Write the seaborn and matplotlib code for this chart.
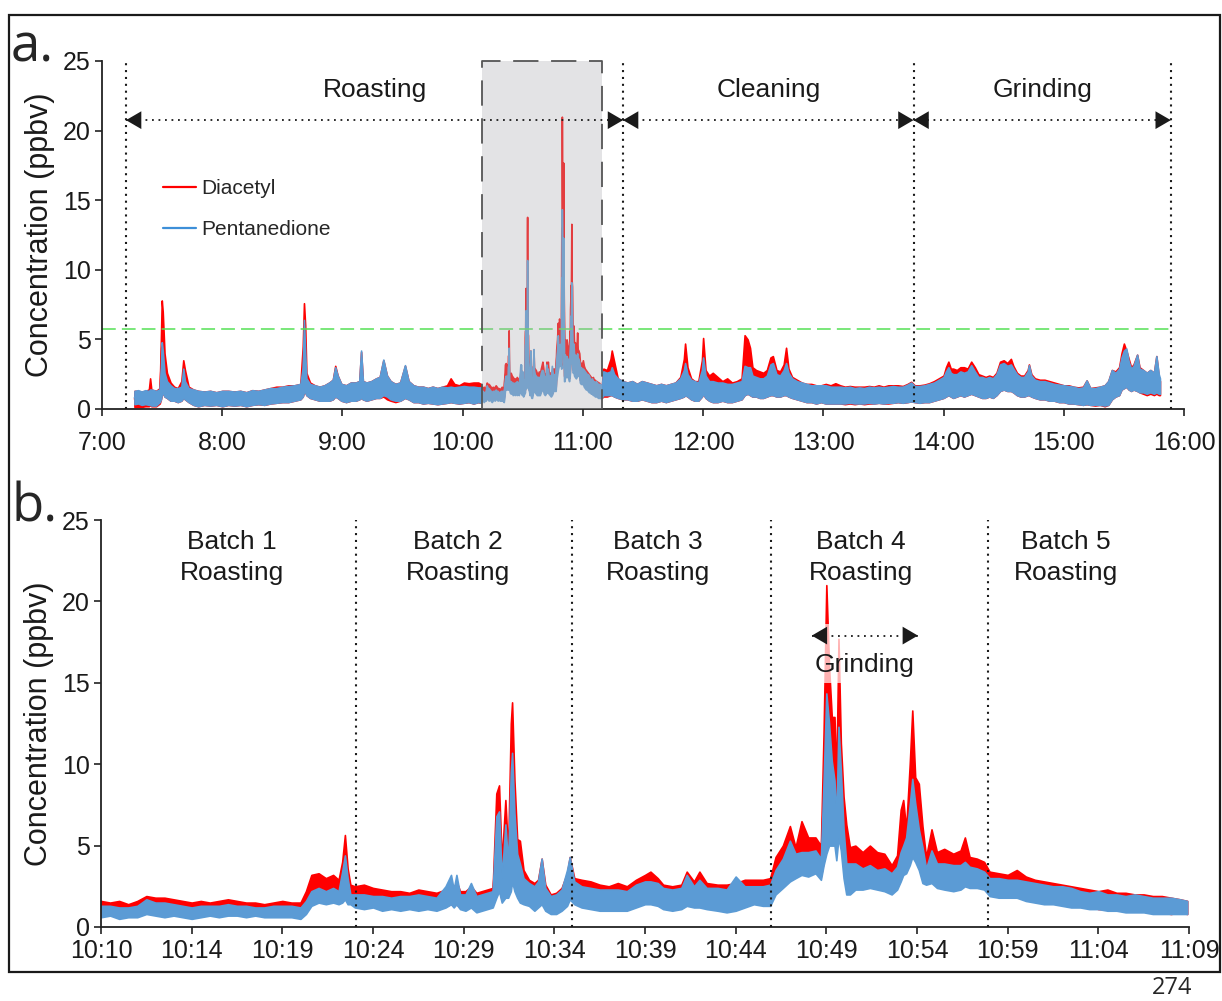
import pandas as pd
import seaborn as sns
import matplotlib.pyplot as plt
from matplotlib.patches import Rectangle
from matplotlib.lines import Line2D

# ---------------- data ----------------
# Each series is kept as a lower / upper envelope of the noisy signal
# panel a, before the zoomed window (time in decimal hours)
pre_t = [7.27, 7.30, 7.33, 7.36, 7.39, 7.40, 7.41, 7.45, 7.48, 7.49,
         7.497, 7.505, 7.52, 7.54, 7.57, 7.60, 7.63, 7.66, 7.676, 7.69,
         7.72, 7.76, 7.80, 7.85, 7.90, 7.95, 8.00, 8.05, 8.10, 8.15,
         8.20, 8.25, 8.30, 8.35, 8.40, 8.45, 8.50, 8.55, 8.60, 8.65,
         8.67, 8.68, 8.69, 8.70, 8.73, 8.77, 8.81, 8.85, 8.89, 8.92,
         8.94, 8.96, 8.99, 9.03, 9.07, 9.11, 9.14, 9.155, 9.17, 9.20,
         9.24, 9.28, 9.31, 9.34, 9.37, 9.40, 9.44, 9.48, 9.52, 9.55,
         9.59, 9.63, 9.67, 9.71, 9.75, 9.79, 9.83, 9.87, 9.90, 9.93,
         9.97, 10.01, 10.05, 10.09, 10.13, 10.15]
pre_dia_lo = [0.15, 0.15, 0.15, 0.2, 0.2, 0.3, 0.2, 0.2, 0.4, 0.7,
              1.0, 1.2, 0.9, 0.8, 0.6, 0.6, 0.5, 0.6, 0.8, 0.7,
              0.5, 0.3, 0.2, 0.3, 0.25, 0.3, 0.2, 0.3, 0.25, 0.3,
              0.2, 0.3, 0.35, 0.3, 0.4, 0.45, 0.5, 0.5, 0.6, 0.7,
              0.9, 1.2, 1.2, 1.0, 0.8, 0.7, 0.6, 0.6, 0.6, 0.7,
              0.9, 0.8, 0.6, 0.5, 0.6, 0.6, 0.7, 0.8, 0.7, 0.6,
              0.7, 0.8, 0.8, 0.9, 0.7, 0.6, 0.5, 0.6, 0.8, 0.7,
              0.5, 0.5, 0.4, 0.45, 0.4, 0.35, 0.4, 0.45, 0.5, 0.45,
              0.4, 0.45, 0.5, 0.4, 0.5, 0.45]
pre_dia_hi = [1.3, 1.3, 1.25, 1.3, 1.4, 2.2, 1.4, 1.3, 1.5, 5.0,
              7.8, 7.0, 4.0, 2.6, 1.9, 1.6, 1.5, 2.0, 3.5, 2.8,
              1.6, 1.4, 1.3, 1.25, 1.3, 1.2, 1.3, 1.3, 1.25, 1.3,
              1.2, 1.35, 1.3, 1.4, 1.5, 1.6, 1.6, 1.7, 1.7, 1.8,
              4.5, 7.6, 6.0, 2.6, 1.9, 1.7, 1.6, 1.7, 1.9, 2.1,
              3.1, 2.4, 1.8, 1.7, 1.9, 1.9, 2.0, 4.1, 2.0, 1.9,
              2.0, 2.2, 2.3, 3.5, 2.4, 2.0, 1.8, 1.9, 3.1, 2.0,
              1.7, 1.6, 1.6, 1.5, 1.6, 1.5, 1.6, 1.7, 2.2, 1.8,
              1.7, 1.9, 1.85, 1.9, 1.9, 1.8]
pre_pen_lo = [0.35, 0.4, 0.3, 0.35, 0.3, 0.3, 0.25, 0.25, 0.5, 0.7,
              1.0, 1.2, 0.9, 0.8, 0.6, 0.6, 0.5, 0.6, 0.8, 0.7,
              0.5, 0.3, 0.2, 0.3, 0.25, 0.3, 0.2, 0.3, 0.25, 0.3,
              0.2, 0.3, 0.35, 0.3, 0.4, 0.45, 0.5, 0.5, 0.6, 0.7,
              0.9, 1.2, 1.2, 1.0, 0.8, 0.7, 0.6, 0.6, 0.6, 0.7,
              0.9, 0.8, 0.6, 0.5, 0.6, 0.6, 0.7, 0.8, 0.7, 0.6,
              0.7, 0.8, 0.8, 1.0, 0.9, 0.7, 0.6, 0.6, 0.8, 0.7,
              0.5, 0.5, 0.4, 0.45, 0.4, 0.35, 0.4, 0.45, 0.5, 0.45,
              0.4, 0.45, 0.5, 0.4, 0.5, 0.45]
pre_pen_hi = [1.3, 1.35, 1.25, 1.35, 1.3, 1.4, 1.4, 1.3, 1.4, 3.0,
              4.8, 4.2, 2.6, 2.0, 1.7, 1.5, 1.5, 1.6, 2.9, 2.0,
              1.5, 1.4, 1.3, 1.25, 1.3, 1.2, 1.3, 1.3, 1.25, 1.3,
              1.2, 1.35, 1.3, 1.4, 1.5, 1.5, 1.6, 1.65, 1.7, 1.8,
              3.0, 6.4, 4.0, 2.2, 1.8, 1.7, 1.6, 1.7, 1.9, 2.1,
              3.0, 2.4, 1.8, 1.7, 1.9, 1.9, 2.0, 4.2, 2.0, 1.9,
              2.0, 2.2, 2.3, 3.55, 2.4, 2.0, 1.8, 1.9, 3.15, 2.0,
              1.7, 1.6, 1.6, 1.5, 1.6, 1.5, 1.6, 1.55, 1.6, 1.55,
              1.6, 1.65, 1.6, 1.6, 1.55, 1.55]

# panel a, after the zoomed window
post_t = [11.17, 11.20, 11.23, 11.24, 11.26, 11.29, 11.33, 11.37, 11.41, 11.45,
          11.49, 11.53, 11.57, 11.61, 11.65, 11.69, 11.73, 11.77, 11.81, 11.84,
          11.85, 11.87, 11.90, 11.93, 11.96, 11.99, 12.00, 12.02, 12.05, 12.08,
          12.12, 12.16, 12.20, 12.24, 12.28, 12.32, 12.345, 12.37, 12.39, 12.41,
          12.44, 12.47, 12.50, 12.53, 12.56, 12.58, 12.61, 12.64, 12.67, 12.69,
          12.71, 12.74, 12.78, 12.82, 12.86, 12.90, 12.94, 12.98, 13.02, 13.06,
          13.10, 13.14, 13.18, 13.22, 13.26, 13.30, 13.34, 13.38, 13.42, 13.46,
          13.50, 13.54, 13.58, 13.62, 13.66, 13.70, 13.73, 13.76, 13.80, 13.84,
          13.88, 13.92, 13.96, 14.00, 14.02, 14.04, 14.06, 14.08, 14.11, 14.14,
          14.17, 14.20, 14.23, 14.26, 14.29, 14.32, 14.35, 14.38, 14.41, 14.44,
          14.47, 14.50, 14.53, 14.56, 14.58, 14.61, 14.64, 14.67, 14.70, 14.71,
          14.73, 14.76, 14.80, 14.84, 14.88, 14.92, 14.96, 15.00, 15.04, 15.08,
          15.12, 15.16, 15.19, 15.22, 15.26, 15.30, 15.34, 15.37, 15.40, 15.43,
          15.46, 15.48, 15.50, 15.52, 15.54, 15.56, 15.58, 15.61, 15.63, 15.66,
          15.69, 15.72, 15.75, 15.77, 15.79, 15.80]
post_dia_lo = [0.9, 0.9, 1.0, 1.0, 0.9, 0.8, 0.7, 0.7, 0.6, 0.6,
               0.7, 0.6, 0.5, 0.5, 0.6, 0.5, 0.6, 0.7, 0.8, 0.9,
               1.0, 0.9, 0.7, 0.6, 0.6, 0.9, 1.1, 0.8, 0.6, 0.5,
               0.5, 0.6, 0.5, 0.5, 0.6, 0.7, 1.0, 1.1, 1.0, 0.9,
               0.9, 0.8, 0.8, 0.9, 1.0, 1.0, 0.9, 0.9, 1.0, 1.0,
               0.9, 0.8, 0.7, 0.6, 0.5, 0.5, 0.4, 0.5, 0.4, 0.4,
               0.4, 0.4, 0.35, 0.4, 0.35, 0.4, 0.35, 0.4, 0.4, 0.45,
               0.4, 0.4, 0.45, 0.5, 0.45, 0.5, 0.55, 0.5, 0.45, 0.5,
               0.5, 0.6, 0.7, 0.8, 0.9, 1.0, 0.9, 0.8, 0.9, 1.0,
               0.9, 1.0, 1.1, 1.0, 0.9, 0.8, 0.8, 0.9, 0.8, 1.0,
               1.3, 1.4, 1.3, 1.3, 1.2, 1.0, 0.9, 0.9, 1.0, 1.0,
               0.9, 0.8, 0.7, 0.7, 0.6, 0.6, 0.5, 0.5, 0.4, 0.4,
               0.35, 0.3, 0.35, 0.3, 0.25, 0.3, 0.2, 0.3, 0.7, 0.9,
               1.0, 1.4, 1.5, 1.6, 1.4, 1.3, 1.4, 1.3, 1.2, 1.1,
               1.0, 1.1, 1.0, 1.1, 1.0, 1.0]
post_dia_hi = [2.9, 2.8, 3.6, 4.2, 3.4, 2.2, 2.0, 1.9, 2.0, 1.8,
               2.0, 1.9, 1.8, 1.7, 1.8, 1.7, 1.8, 1.9, 2.3, 3.6,
               4.7, 3.0, 2.2, 2.0, 2.0, 3.5, 5.1, 2.8, 2.4, 2.6,
               2.3, 2.0, 2.2, 1.9, 2.0, 2.2, 5.3, 5.0, 4.4, 3.0,
               2.8, 2.7, 2.6, 2.8, 3.7, 3.8, 2.8, 2.7, 3.2, 4.4,
               2.9, 2.3, 2.1, 1.9, 1.8, 1.8, 1.7, 1.7, 1.8, 1.7,
               1.85, 1.7, 1.6, 1.65, 1.6, 1.6, 1.6, 1.65, 1.6, 1.7,
               1.6, 1.7, 1.7, 1.7, 1.65, 1.8, 1.95, 1.7, 1.7, 1.75,
               1.85, 2.0, 2.2, 2.4, 3.0, 3.4, 2.9, 2.9, 2.8, 3.0,
               3.0, 2.9, 3.4, 3.0, 2.5, 2.4, 2.3, 2.4, 2.3, 2.6,
               3.4, 3.5, 3.3, 3.6, 3.1, 2.6, 2.4, 2.4, 2.8, 3.2,
               2.5, 2.2, 2.1, 2.1, 2.0, 1.9, 1.8, 1.7, 1.7, 1.6,
               1.55, 1.6, 2.05, 1.5, 1.55, 1.6, 1.7, 2.0, 2.8, 2.7,
               3.0, 4.0, 4.7, 4.2, 3.6, 3.0, 3.2, 3.9, 3.0, 2.8,
               2.6, 2.8, 2.6, 3.8, 2.3, 2.0]
post_pen_lo = [1.0, 1.0, 1.0, 1.0, 0.9, 0.8, 0.7, 0.7, 0.6, 0.6,
               0.7, 0.6, 0.5, 0.5, 0.6, 0.5, 0.6, 0.7, 0.8, 0.9,
               1.0, 0.9, 0.7, 0.6, 0.6, 0.9, 1.1, 0.8, 0.6, 0.5,
               0.5, 0.6, 0.5, 0.5, 0.6, 0.7, 1.0, 1.1, 1.0, 0.9,
               0.9, 0.8, 0.8, 0.9, 1.0, 1.0, 0.9, 0.9, 1.0, 1.0,
               0.9, 0.8, 0.7, 0.6, 0.5, 0.5, 0.4, 0.5, 0.4, 0.4,
               0.4, 0.4, 0.4, 0.45, 0.4, 0.4, 0.4, 0.45, 0.4, 0.45,
               0.4, 0.45, 0.45, 0.5, 0.45, 0.5, 0.55, 0.5, 0.45, 0.5,
               0.5, 0.6, 0.7, 0.8, 0.9, 1.0, 0.9, 0.8, 0.9, 1.0,
               0.9, 1.0, 1.1, 1.0, 0.9, 0.8, 0.8, 0.9, 0.8, 1.0,
               1.3, 1.4, 1.3, 1.3, 1.2, 1.0, 0.9, 0.9, 1.0, 1.0,
               0.9, 0.8, 0.7, 0.7, 0.6, 0.6, 0.5, 0.5, 0.4, 0.4,
               0.35, 0.3, 0.35, 0.3, 0.3, 0.3, 0.25, 0.3, 0.7, 0.9,
               1.0, 1.4, 1.5, 1.6, 1.4, 1.3, 1.4, 1.3, 1.2, 1.2,
               1.1, 1.2, 1.1, 1.2, 1.1, 1.1]
post_pen_hi = [2.7, 2.6, 2.7, 3.0, 2.5, 2.2, 2.0, 1.9, 2.0, 1.8,
               2.0, 1.9, 1.8, 1.7, 1.8, 1.7, 1.8, 1.9, 2.2, 2.8,
               3.3, 2.5, 2.1, 2.0, 1.9, 2.8, 3.7, 2.4, 2.0, 2.0,
               1.9, 1.9, 1.8, 1.8, 1.9, 2.0, 3.1, 3.0, 3.0, 2.4,
               2.3, 2.2, 2.2, 2.4, 3.2, 3.3, 2.5, 2.4, 2.8, 3.3,
               2.6, 2.2, 2.0, 1.9, 1.8, 1.7, 1.7, 1.7, 1.7, 1.6,
               1.6, 1.6, 1.55, 1.6, 1.5, 1.55, 1.5, 1.6, 1.55, 1.6,
               1.55, 1.6, 1.65, 1.6, 1.6, 1.75, 1.9, 1.65, 1.65, 1.7,
               1.8, 1.9, 2.1, 2.3, 2.7, 3.0, 2.6, 2.5, 2.5, 2.7,
               2.6, 2.7, 3.15, 2.7, 2.3, 2.3, 2.2, 2.3, 2.2, 2.5,
               3.2, 3.3, 3.1, 3.2, 2.9, 2.5, 2.3, 2.3, 2.7, 3.15,
               2.4, 2.1, 2.0, 2.0, 1.9, 1.8, 1.75, 1.7, 1.65, 1.6,
               1.5, 1.55, 2.05, 1.5, 1.5, 1.6, 1.7, 2.0, 2.8, 2.6,
               2.9, 3.7, 4.2, 4.35, 3.4, 2.9, 3.1, 3.9, 2.9, 2.8,
               2.6, 2.8, 2.6, 3.8, 2.5, 2.2]

# panel b, the zoomed window (minutes from 10:09:30)
b_min = [0.0, 0.5, 1.0, 1.5, 2.0, 2.5, 3.0, 3.5, 4.0, 4.5,
         5.0, 5.5, 6.0, 6.5, 7.0, 7.5, 8.0, 8.5, 9.0, 9.5,
         10.0, 10.5, 11.0, 11.3, 11.6, 12.0, 12.4, 12.8, 13.1, 13.3,
         13.45, 13.6, 13.75, 14.0, 14.5, 15.0, 15.5, 16.0, 16.5, 17.0,
         17.5, 18.0, 18.5, 19.0, 19.3, 19.45, 19.6, 19.8, 20.1, 20.4,
         20.7, 21.0, 21.3, 21.6, 21.8, 21.95, 22.1, 22.3, 22.45, 22.6,
         22.67, 22.8, 22.95, 23.1, 23.3, 23.6, 23.9, 24.1, 24.3, 24.5,
         24.8, 25.1, 25.4, 25.7, 25.85, 26.1, 26.5, 27.0, 27.5, 28.0,
         28.5, 29.0, 29.5, 30.0, 30.3, 30.7, 31.0, 31.5, 32.0, 32.3,
         32.7, 33.0, 33.4, 34.0, 34.5, 35.0, 35.5, 36.0, 36.5, 36.9,
         37.2, 37.6, 37.99, 38.3, 38.63, 39.0, 39.4, 39.7, 39.85, 40.0,
         40.15, 40.3, 40.45, 40.55, 40.67, 40.8, 40.95, 41.1, 41.3, 41.6,
         42.0, 42.4, 42.8, 43.2, 43.6, 43.9, 44.1, 44.24, 44.4, 44.6,
         44.74, 44.9, 45.1, 45.3, 45.5, 45.8, 46.1, 46.5, 47.0, 47.4,
         47.64, 47.9, 48.3, 48.7, 49.0, 49.5, 50.0, 50.5, 51.0, 51.5,
         52.0, 52.5, 53.0, 53.5, 54.0, 54.5, 55.0, 55.5, 56.0, 56.5,
         57.0, 57.5, 58.0, 58.5, 59.0, 59.5, 59.9]
b_dia_lo = [0.8, 0.9, 0.7, 0.8, 0.9, 1.1, 1.0, 0.9, 0.9, 0.8,
            0.8, 0.9, 0.9, 0.9, 1.0, 0.9, 0.9, 0.9, 0.8, 0.9,
            0.9, 0.9, 0.8, 1.1, 1.6, 1.8, 1.7, 1.8, 1.6, 1.8,
            2.0, 1.8, 1.6, 1.6, 1.5, 1.5, 1.4, 1.3, 1.3, 1.4,
            1.4, 1.3, 1.2, 1.3, 1.4, 1.3, 1.4, 1.2, 1.2, 1.3,
            1.2, 1.2, 1.3, 1.4, 2.0, 2.5, 1.6, 2.0, 2.0, 2.5,
            3.0, 2.5, 2.0, 1.8, 1.6, 1.4, 1.2, 1.4, 1.5, 1.2,
            0.9, 1.0, 1.2, 1.5, 1.8, 1.6, 1.4, 1.3, 1.2, 1.1,
            1.1, 1.2, 1.3, 1.5, 1.5, 1.5, 1.3, 1.1, 1.2, 1.4,
            1.3, 1.3, 1.2, 1.1, 1.0, 1.1, 1.3, 1.5, 1.5, 1.5,
            2.3, 2.8, 3.2, 3.4, 3.5, 3.4, 3.4, 3.1, 4.0, 5.0,
            5.5, 5.6, 5.5, 5.0, 6.0, 5.5, 3.5, 2.4, 2.3, 2.5,
            2.5, 2.6, 2.5, 2.4, 2.2, 2.5, 3.0, 3.4, 3.5, 4.0,
            4.5, 4.2, 3.8, 3.0, 2.8, 2.9, 2.6, 2.5, 2.4, 2.5,
            2.7, 2.6, 2.6, 2.5, 2.1, 2.0, 2.0, 1.9, 1.8, 1.7,
            1.6, 1.5, 1.5, 1.4, 1.3, 1.3, 1.1, 1.1, 1.1, 1.0,
            1.0, 1.0, 0.9, 0.9, 0.8, 0.9, 0.8]
b_dia_hi = [1.6, 1.5, 1.6, 1.4, 1.6, 1.9, 1.8, 1.8, 1.7, 1.6,
            1.5, 1.6, 1.5, 1.6, 1.7, 1.6, 1.5, 1.5, 1.4, 1.5,
            1.6, 1.5, 1.5, 2.2, 3.2, 3.3, 3.0, 3.2, 2.9, 4.0,
            5.65, 3.6, 2.6, 2.5, 2.6, 2.4, 2.3, 2.2, 2.2, 2.1,
            2.3, 2.2, 2.1, 2.3, 2.7, 2.4, 2.8, 2.2, 2.2, 2.5,
            2.1, 2.2, 2.3, 2.4, 8.2, 8.7, 4.0, 7.8, 4.5, 12.5,
            13.8, 9.0, 5.4, 5.3, 3.5, 2.9, 2.7, 2.9, 4.2, 2.6,
            2.0, 2.1, 2.4, 3.3, 4.3, 3.0, 2.9, 2.8, 2.6, 2.5,
            2.7, 2.5, 2.9, 3.2, 3.4, 3.0, 2.6, 2.5, 2.6, 3.4,
            2.8, 3.4, 2.7, 2.6, 2.6, 2.7, 2.9, 2.9, 2.9, 3.0,
            4.3, 5.0, 6.2, 4.9, 6.5, 5.5, 5.5, 5.0, 12.0, 21.0,
            16.0, 12.9, 12.9, 9.0, 17.7, 11.3, 8.0, 6.3, 4.9, 5.0,
            4.6, 5.0, 4.6, 4.5, 3.8, 4.4, 7.2, 7.8, 6.0, 10.0,
            13.3, 9.2, 8.8, 6.2, 4.3, 6.0, 4.6, 4.8, 4.5, 4.7,
            5.5, 4.3, 4.2, 4.0, 3.4, 3.3, 3.2, 3.5, 3.1, 2.9,
            2.8, 2.7, 2.6, 2.5, 2.4, 2.3, 2.2, 2.3, 2.1, 2.1,
            2.0, 2.0, 1.9, 1.9, 1.8, 1.7, 1.6]
b_pen_lo = [0.6, 0.7, 0.5, 0.6, 0.6, 0.8, 0.7, 0.6, 0.7, 0.6,
            0.5, 0.6, 0.7, 0.6, 0.7, 0.7, 0.6, 0.7, 0.6, 0.6,
            0.6, 0.6, 0.5, 0.8, 1.3, 1.5, 1.4, 1.5, 1.4, 1.5,
            1.7, 1.4, 1.4, 1.2, 1.1, 1.2, 1.0, 1.1, 1.0, 1.1,
            1.0, 1.1, 1.0, 1.2, 1.4, 1.2, 1.4, 1.1, 1.0, 1.2,
            0.9, 1.0, 1.1, 1.2, 1.8, 2.2, 1.5, 1.8, 1.8, 2.2,
            2.8, 2.2, 1.8, 1.5, 1.4, 1.3, 1.0, 1.2, 1.4, 1.0,
            0.8, 0.8, 1.0, 1.3, 1.7, 1.4, 1.2, 1.1, 1.0, 1.0,
            1.0, 1.0, 1.2, 1.4, 1.4, 1.3, 1.1, 1.0, 1.1, 1.3,
            1.2, 1.2, 1.1, 1.0, 0.9, 1.0, 1.2, 1.4, 1.3, 1.3,
            2.0, 2.4, 2.8, 3.0, 3.2, 3.1, 3.3, 2.9, 3.8, 4.5,
            5.0, 5.0, 5.0, 4.1, 5.5, 4.7, 3.0, 2.0, 2.0, 2.3,
            2.3, 2.4, 2.3, 2.2, 2.0, 2.3, 2.8, 3.2, 3.3, 3.8,
            4.3, 4.0, 3.5, 2.7, 2.6, 2.7, 2.4, 2.3, 2.2, 2.3,
            2.5, 2.4, 2.4, 2.3, 1.9, 1.8, 1.8, 1.8, 1.6, 1.5,
            1.4, 1.4, 1.3, 1.2, 1.2, 1.1, 1.1, 1.0, 1.0, 0.9,
            0.9, 0.9, 0.8, 0.8, 0.8, 0.8, 0.8]
b_pen_hi = [1.3, 1.3, 1.2, 1.2, 1.3, 1.7, 1.5, 1.5, 1.4, 1.3,
            1.2, 1.3, 1.3, 1.3, 1.4, 1.3, 1.3, 1.2, 1.2, 1.3,
            1.3, 1.3, 1.2, 1.6, 2.2, 2.4, 2.2, 2.4, 2.2, 3.4,
            4.4, 3.0, 2.0, 2.0, 2.0, 1.9, 1.9, 1.8, 1.9, 1.9,
            2.0, 1.9, 1.8, 2.5, 3.2, 2.3, 3.2, 2.0, 2.0, 2.7,
            1.9, 2.0, 2.1, 2.2, 6.8, 7.1, 3.0, 6.3, 3.9, 9.5,
            10.7, 7.0, 4.5, 3.9, 3.0, 2.7, 2.5, 2.8, 4.2, 2.4,
            1.9, 2.0, 2.3, 3.5, 4.3, 2.8, 2.5, 2.4, 2.3, 2.3,
            2.3, 2.2, 2.6, 2.8, 2.8, 2.7, 2.4, 2.3, 2.4, 3.2,
            2.5, 2.9, 2.4, 2.4, 2.3, 3.1, 2.5, 2.5, 2.5, 2.6,
            3.5, 4.2, 5.3, 4.5, 4.6, 4.6, 4.7, 4.2, 9.0, 14.35,
            12.5, 10.2, 9.0, 6.5, 12.3, 9.6, 6.0, 3.9, 3.9, 3.9,
            3.6, 3.8, 3.5, 3.6, 3.3, 3.7, 4.6, 5.0, 5.5, 7.5,
            9.1, 7.6, 6.0, 4.9, 3.6, 4.7, 3.9, 3.9, 3.8, 3.8,
            4.0, 3.7, 3.6, 3.4, 3.0, 3.0, 2.9, 2.9, 2.8, 2.7,
            2.6, 2.5, 2.5, 2.4, 2.2, 2.1, 2.2, 2.0, 2.0, 1.9,
            2.0, 1.9, 1.8, 1.8, 1.8, 1.7, 1.6]

series_names = ['Diacetyl', 'Pentanedione']
a_ticklabels = ['7:00', '8:00', '9:00', '10:00', '11:00', '12:00',
                '13:00', '14:00', '15:00', '16:00']
b_ticklabels = ['10:10', '10:14', '10:19', '10:24', '10:29', '10:34', '10:39',
                '10:44', '10:49', '10:54', '10:59', '11:04', '11:09']
a_phases = ['Roasting', 'Cleaning', 'Grinding']
a_phase_edges = [7.2, 11.334, 13.75, 15.89]
b_batches = ['Batch 1\nRoasting', 'Batch 2\nRoasting', 'Batch 3\nRoasting',
             'Batch 4\nRoasting', 'Batch 5\nRoasting']
b_batch_edges = [14.05, 25.96, 36.94, 48.9]
limit_ppbv = 5.76
win_start = 10 + 9.5 / 60   # start of the zoomed hour (decimal hours)


def to_long(t, dlo, dhi, plo, phi):
    rows = []
    for i in range(len(t)):
        rows.append((t[i], dlo[i], 'Diacetyl'))
        rows.append((t[i], dhi[i], 'Diacetyl'))
        rows.append((t[i], plo[i], 'Pentanedione'))
        rows.append((t[i], phi[i], 'Pentanedione'))
    return pd.DataFrame(rows, columns=['time', 'conc', 'series'])


df_b = to_long(b_min, b_dia_lo, b_dia_hi, b_pen_lo, b_pen_hi)
df_win = df_b.copy()
df_win['time'] = win_start + df_win['time'] / 60
df_a = pd.concat([to_long(pre_t, pre_dia_lo, pre_dia_hi, pre_pen_lo, pre_pen_hi),
                  df_win,
                  to_long(post_t, post_dia_lo, post_dia_hi, post_pen_lo, post_pen_hi)],
                 ignore_index=True)

# ---------------- plotting ----------------
sns.set_theme(style='white')
plt.rcParams['font.family'] = ['Liberation Sans', 'DejaVu Sans']

red = '#ff0000'
blue = '#5b9bd5'
pal = {'Diacetyl': red, 'Pentanedione': blue}

W, H = 1222, 1001
fig = plt.figure(figsize=(W / 100, H / 100), dpi=100)
ax_a = fig.add_axes([102 / W, 1 - 409 / H, 1082 / W, 348 / H])
ax_b = fig.add_axes([101 / W, 1 - 927 / H, 1088 / W, 407 / H])


def draw_series(ax, df):
    # band between min and max of the envelope = the dense noisy trace
    sns.lineplot(data=df, x='time', y='conc', hue='series', hue_order=series_names,
                 palette=pal, estimator='mean', errorbar=('pi', 100),
                 err_kws={'alpha': 1, 'linewidth': 1.2, 'zorder': 2},
                 linewidth=1.2, zorder=2, legend=False, ax=ax)


def style_axes(ax, xpad):
    ax.set_ylim(0, 25)
    ax.set_yticks(range(0, 26, 5))
    for s in ['top', 'right']:
        ax.spines[s].set_visible(False)
    for s in ['left', 'bottom']:
        ax.spines[s].set_color('#222222')
        ax.spines[s].set_linewidth(1.3)
    ax.tick_params(axis='both', direction='out', length=5, width=1.2, color='#222222',
                   labelsize=18, labelcolor='#1a1a1a', left=True, bottom=True, pad=3)
    ax.tick_params(axis='x', pad=xpad)
    ax.set_xlabel('')
    ax.set_ylabel('Concentration (ppbv)', fontsize=22, labelpad=6, color='#1a1a1a')


def arrow_heads(ax, x0, x1, y):
    ax.plot([x0, x1], [y, y], color='k', lw=1.3, dashes=(1, 2.6), zorder=5)
    head = dict(arrowstyle='-|>,head_length=0.55,head_width=0.32', mutation_scale=20,
                color='k', lw=0, shrinkA=0, shrinkB=0)
    ax.annotate('', xy=(x0, y), xytext=(11, 0), textcoords='offset points',
                arrowprops=head, zorder=6)
    ax.annotate('', xy=(x1, y), xytext=(-11, 0), textcoords='offset points',
                arrowprops=head, zorder=6)


# ---- panel a ----
draw_series(ax_a, df_a)
style_axes(ax_a, 11)
ax_a.set_xlim(7, 16)
ax_a.set_xticks(range(7, 17))
ax_a.set_xticklabels(a_ticklabels)

ax_a.plot([7, a_phase_edges[-1]], [limit_ppbv, limit_ppbv], color='#55e055',
          lw=1.1, dashes=(9, 4), zorder=2.5)
for x in a_phase_edges:
    ax_a.axvline(x, color='k', lw=1.5, dashes=(1, 2.3), zorder=4)
for i, name in enumerate(a_phases):
    x0, x1 = a_phase_edges[i], a_phase_edges[i + 1]
    arrow_heads(ax_a, x0, x1, 20.75)
    ax_a.text((x0 + x1) / 2 if i else 9.27, 22.9, name, ha='center', va='center',
              fontsize=19, color='#1a1a1a')

win_end = win_start + 1.0
ax_a.add_patch(Rectangle((win_start, 0), 1.0, 25, facecolor=(0.686, 0.69, 0.714),
                         alpha=0.35, edgecolor='none', zorder=3))
ax_a.plot([win_start, win_start, win_end, win_end], [0, 25, 25, 0], color='#555555',
          lw=1.3, dashes=(14, 7), zorder=4, clip_on=False)

handles = [Line2D([], [], color=red, lw=1.6), Line2D([], [], color='#3d8fd8', lw=1.6)]
ax_a.legend(handles, series_names, loc='upper left',
            bbox_to_anchor=((163 - 102) / 1082, (409 - 179) / 348), frameon=False,
            fontsize=15, handlelength=1.6, handletextpad=0.25, labelspacing=1.05,
            borderpad=0, borderaxespad=0)

# ---- panel b ----
draw_series(ax_b, df_b)
style_axes(ax_b, 4)
ax_b.set_xlim(0, 60)
ax_b.set_xticks(range(0, 61, 5))
ax_b.set_xticklabels(b_ticklabels)

for x in b_batch_edges:
    ax_b.axvline(x, color='k', lw=1.5, dashes=(1, 2.3), zorder=4)
batch_x = [7.2, 19.7, 30.7, 41.9, 53.2]
for x, name in zip(batch_x, b_batches):
    ax_b.text(x, 22.7, name, ha='center', va='center', fontsize=19,
              color='#1a1a1a', linespacing=1.4)

ax_b.add_patch(Rectangle((39.2, 15.0), 5.85, 3.6, facecolor='white', alpha=0.7,
                         edgecolor='none', zorder=3))
arrow_heads(ax_b, 39.2, 45.05, 17.9)
ax_b.text(42.1, 16.1, 'Grinding', ha='center', va='center', fontsize=19,
          color='#1a1a1a', zorder=6)

# ---- figure decorations ----
fig.add_artist(Rectangle((9 / W, 1 - 972 / H), 1211 / W, 957 / H, transform=fig.transFigure,
                         fill=False, edgecolor='k', lw=1.6))
fig.text(11 / W, 1 - 62 / H, 'a.', fontsize=38, family='Open Sans', va='baseline')
fig.text(11 / W, 1 - 522 / H, 'b.', fontsize=38, family='Open Sans', va='baseline')
fig.text(1172 / W, 1 - 976 / H, '274', fontsize=17, family='Open Sans', va='top',
         ha='center')

fig.savefig('out.png', dpi=100)
